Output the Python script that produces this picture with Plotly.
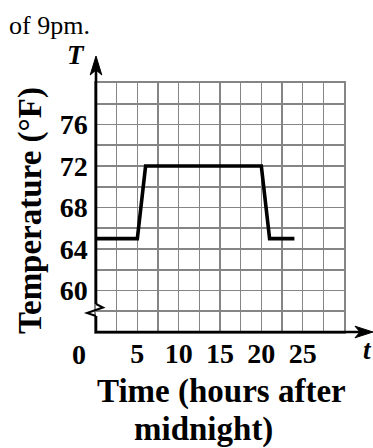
import plotly.graph_objects as go

# ---- data ----
hours = [0, 5, 6, 20, 21, 24]
temps = [65, 65, 72, 72, 65, 65]
x_tick_vals = [5, 10, 15, 20, 25]
x_tick_text = ["5", "10", "15", "20", "25"]
y_tick_vals = [60, 64, 68, 72, 76]
y_tick_text = ["60", "64", "68", "72", "76"]

# ---- layout geometry (pixels) ----
W, H = 373, 448
ML, MR, MT, MB = 96, 29, 83, 116
PW = W - ML - MR
PH = H - MT - MB
BOTTOM = H - MB


def px(xp):
    return (xp - ML) / PW


def py(yp):
    return (BOTTOM - yp) / PH


SERIF = "Liberation Serif, Times New Roman, serif"
GRID = "#858585"

fig = go.Figure()
fig.add_trace(go.Scatter(x=hours, y=temps, mode="lines",
                         line=dict(color="black", width=3.6),
                         hoverinfo="skip", showlegend=False, cliponaxis=False))

axis_common = dict(showgrid=True, gridcolor=GRID, gridwidth=1.6, zeroline=False,
                   showline=True, mirror=True, linecolor=GRID, linewidth=1.6,
                   ticks="", fixedrange=True)

fig.update_xaxes(range=[0, 30], tickmode="array", tickvals=x_tick_vals, ticktext=x_tick_text,
                 minor=dict(dtick=2.5, tick0=0, showgrid=True, gridcolor=GRID, gridwidth=1.6),
                 tickfont=dict(family=SERIF, size=28, color="black", weight="bold"),
                 ticklabelstandoff=-4, **axis_common)
fig.update_yaxes(range=[56, 80], tickmode="array", tickvals=y_tick_vals, ticktext=y_tick_text,
                 minor=dict(dtick=2, tick0=0, showgrid=True, gridcolor=GRID, gridwidth=1.6),
                 tickfont=dict(family=SERIF, size=28, color="black", weight="bold"),
                 ticklabelstandoff=1, **axis_common)

shapes = []
AX = ML  # y axis pixel x
# x-axis line
shapes.append(dict(type="line", xref="paper", yref="paper", x0=px(AX - 1), x1=px(362), y0=py(BOTTOM), y1=py(BOTTOM),
                   line=dict(color="black", width=2.6)))
# y-axis line (upper part) and lower part with break
shapes.append(dict(type="line", xref="paper", yref="paper", x0=px(AX), x1=px(AX), y0=py(304), y1=py(66),
                   line=dict(color="black", width=2.6)))
shapes.append(dict(type="line", xref="paper", yref="paper", x0=px(AX), x1=px(AX), y0=py(BOTTOM + 1), y1=py(316),
                   line=dict(color="black", width=2.6)))
zig = [(AX, 304), (AX + 7, 307.5), (AX - 9, 313), (AX, 316)]
path = "M " + " L ".join(f"{px(a):.5f},{py(b):.5f}" for a, b in zig)
shapes.append(dict(type="path", xref="paper", yref="paper", path=path,
                   line=dict(color="black", width=2)))


def arrow(tip, back_l, notch, back_r):
    pts = [tip, back_l, notch, back_r]
    return "M " + " L ".join(f"{px(a):.5f},{py(b):.5f}" for a, b in pts) + " Z"


# y arrowhead
shapes.append(dict(type="path", xref="paper", yref="paper",
                   path=arrow((AX, 56), (AX - 5.8, 75), (AX, 70), (AX + 5.8, 75)),
                   fillcolor="black", line=dict(color="black", width=1)))
# x arrowhead
shapes.append(dict(type="path", xref="paper", yref="paper",
                   path=arrow((373, BOTTOM), (355, BOTTOM - 5.8), (360, BOTTOM), (355, BOTTOM + 5.8)),
                   fillcolor="black", line=dict(color="black", width=1)))

annotations = [
    dict(text="of 9pm.", x=px(7), y=py(25), xanchor="left", yanchor="middle",
         font=dict(family=SERIF, size=26, color="black")),
    dict(text="<b><i>T</i></b>", x=px(76), y=py(55), xanchor="center", yanchor="middle",
         font=dict(family=SERIF, size=27, color="black")),
    dict(text="<b><i>t</i></b>", x=px(367), y=py(350), xanchor="center", yanchor="middle",
         font=dict(family=SERIF, size=27, color="black")),
    dict(text="<b>0</b>", x=px(79), y=py(354), xanchor="center", yanchor="middle",
         font=dict(family=SERIF, size=28, color="black")),
    dict(text="<b>Temperature (°F)</b>", x=px(30), y=py(211), xanchor="center", yanchor="middle",
         textangle=-90, font=dict(family=SERIF, size=33, color="black")),
    dict(text="<b>Time (hours after</b>", x=px(221), y=py(391), xanchor="center", yanchor="middle",
         font=dict(family=SERIF, size=33, color="black")),
    dict(text="<b>midnight)</b>", x=px(203), y=py(429), xanchor="center", yanchor="middle",
         font=dict(family=SERIF, size=33, color="black")),
]
for a in annotations:
    a.update(xref="paper", yref="paper", showarrow=False)

fig.update_layout(width=W, height=H, autosize=False,
                  margin=dict(l=ML, r=MR, t=MT, b=MB, pad=0),
                  paper_bgcolor="white", plot_bgcolor="white",
                  shapes=shapes, annotations=annotations, showlegend=False)

fig.write_html("out.html", config={"displayModeBar": False, "staticPlot": True},
               post_script="document.body.style.margin='0';document.body.style.padding='0';")
